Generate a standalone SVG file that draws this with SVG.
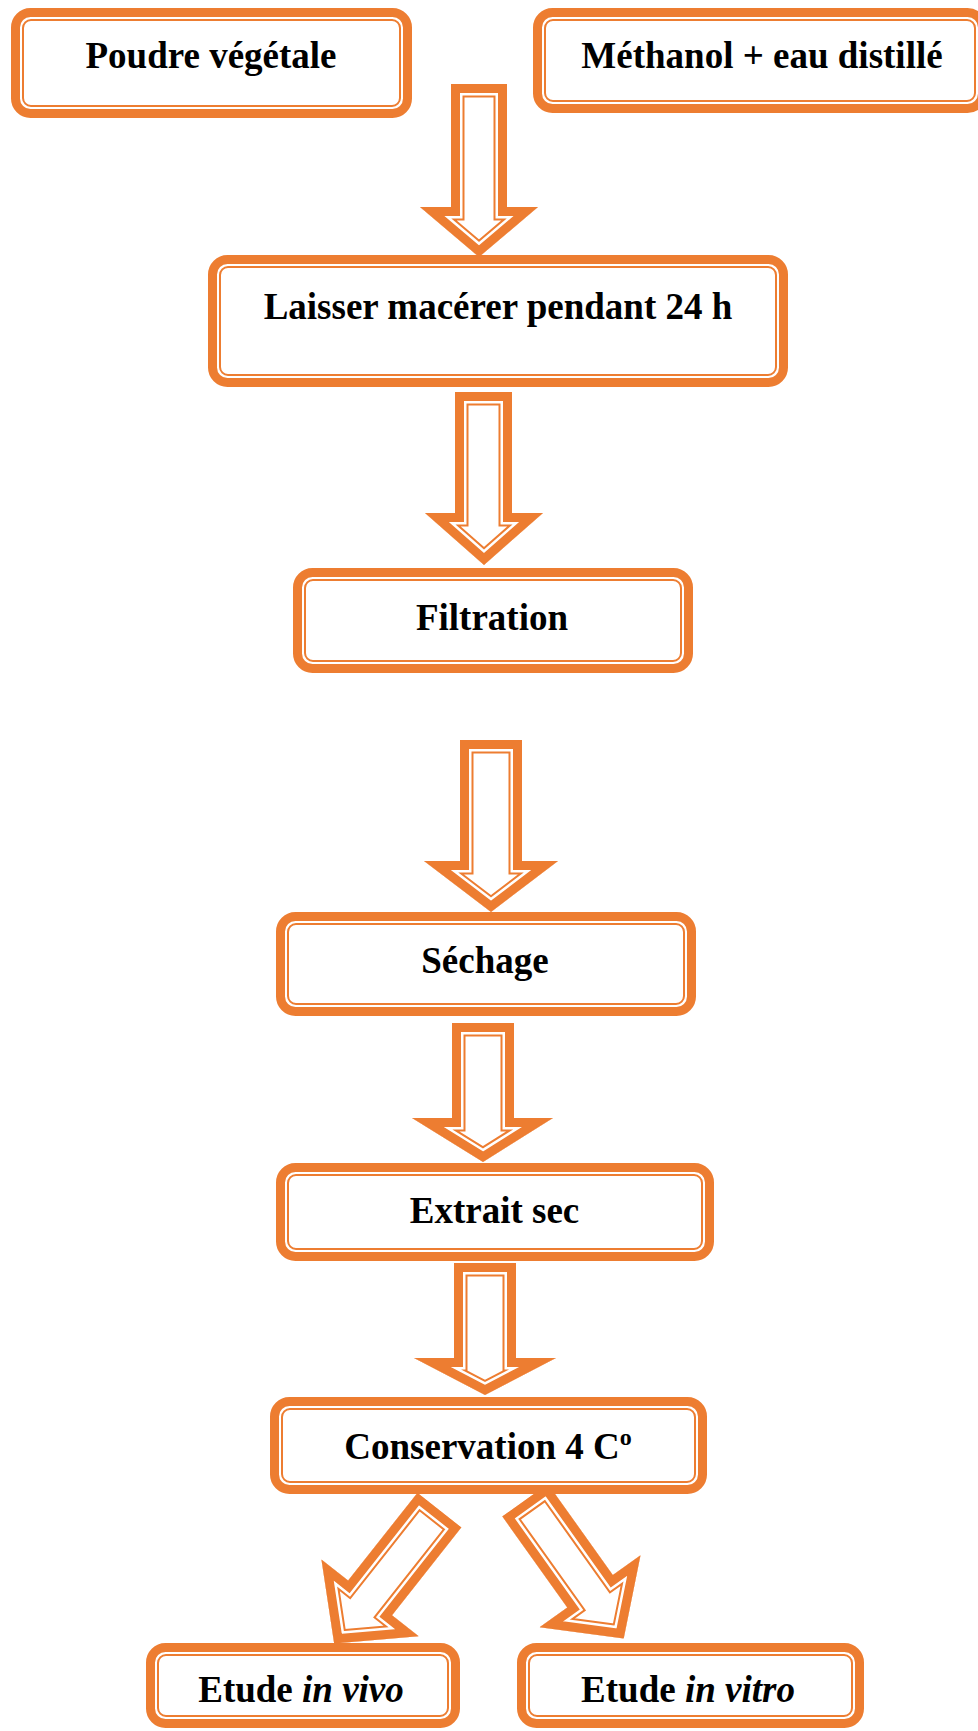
<svg xmlns="http://www.w3.org/2000/svg" width="978" height="1731" viewBox="0 0 978 1731">
<style>
.bo{fill:#fff;stroke:#ED7D31;stroke-width:9}
.bi{fill:none;stroke:#ED7D31;stroke-width:2}
.t{font-family:"Liberation Serif","Times New Roman",serif;font-weight:bold;font-size:37px;fill:#000;text-anchor:middle}
.i{font-style:italic}
.s1{fill:#fff;stroke:#ED7D31;stroke-width:27;stroke-linejoin:miter;stroke-miterlimit:10}
.s2{fill:none;stroke:#fff;stroke-width:23;stroke-linejoin:miter;stroke-miterlimit:10}
.s3{fill:none;stroke:#ED7D31;stroke-width:18;stroke-linejoin:miter;stroke-miterlimit:10}
</style>
<defs>
<path id="p1" d="M451,84 H507 V207 H538 L479,257 L420,207 H451 Z"/>
<path id="p2" d="M455,392 H512 V513 H543 L484,565 L425,513 H455 Z"/>
<path id="p3" d="M460,740 H522 V861 H558 L491,912 L424,861 H460 Z"/>
<path id="p4" d="M452,1023 H514 V1118 H553 L483,1162 L412,1118 H452 Z"/>
<path id="p5" d="M454,1263 H516 V1358 H556 L485,1395 L414,1358 H454 Z"/>
<path id="pd" d="M-28,0 H28 V112 H62 L0,170 L-62,112 H-28 Z"/>
<clipPath id="c1"><use href="#p1"/></clipPath>
<clipPath id="c2"><use href="#p2"/></clipPath>
<clipPath id="c3"><use href="#p3"/></clipPath>
<clipPath id="c4"><use href="#p4"/></clipPath>
<clipPath id="c5"><use href="#p5"/></clipPath>
<clipPath id="cd"><use href="#pd"/></clipPath>
</defs>
<rect x="0" y="0" width="978" height="1731" fill="#fff"/>

<g id="connectors">
<g id="arrow1" clip-path="url(#c1)"><use href="#p1" class="s1"/><use href="#p1" class="s2"/><use href="#p1" class="s3"/></g>
<g id="arrow2" clip-path="url(#c2)"><use href="#p2" class="s1"/><use href="#p2" class="s2"/><use href="#p2" class="s3"/></g>
<g id="arrow3" clip-path="url(#c3)"><use href="#p3" class="s1"/><use href="#p3" class="s2"/><use href="#p3" class="s3"/></g>
<g id="arrow4" clip-path="url(#c4)"><use href="#p4" class="s1"/><use href="#p4" class="s2"/><use href="#p4" class="s3"/></g>
<g id="arrow5" clip-path="url(#c5)"><use href="#p5" class="s1"/><use href="#p5" class="s2"/><use href="#p5" class="s3"/></g>
<g id="arrow6" transform="translate(439.5,1510) rotate(38.3)"><g clip-path="url(#cd)"><use href="#pd" class="s1"/><use href="#pd" class="s2"/><use href="#pd" class="s3"/></g></g>
<g id="arrow7" transform="translate(525,1500) rotate(-35.5)"><g clip-path="url(#cd)"><use href="#pd" class="s1"/><use href="#pd" class="s2"/><use href="#pd" class="s3"/></g></g>
</g>

<g id="n1"><rect class="bo" x="15.5" y="12.5" width="392" height="101" rx="15"/><rect class="bi" x="23" y="20" width="377" height="86" rx="8"/><text class="t" x="211" y="68">Poudre végétale</text></g>
<g id="n2"><rect class="bo" x="537.5" y="12.5" width="445" height="96" rx="15"/><rect class="bi" x="545" y="20" width="430" height="81" rx="8"/><text class="t" x="762" y="68">Méthanol + eau distillé</text></g>
<g id="n3"><rect class="bo" x="212.5" y="259.5" width="571" height="123" rx="15"/><rect class="bi" x="220" y="267" width="556" height="108" rx="8"/><text class="t" x="498" y="319">Laisser macérer pendant 24 h</text></g>
<g id="n4"><rect class="bo" x="297.5" y="572.5" width="391" height="96" rx="15"/><rect class="bi" x="305" y="580" width="376" height="81" rx="8"/><text class="t" x="492" y="630">Filtration</text></g>
<g id="n5"><rect class="bo" x="280.5" y="916.5" width="411" height="95" rx="15"/><rect class="bi" x="288" y="924" width="396" height="80" rx="8"/><text class="t" x="485" y="973">Séchage</text></g>
<g id="n6"><rect class="bo" x="280.5" y="1167.5" width="429" height="89" rx="15"/><rect class="bi" x="288" y="1175" width="414" height="74" rx="8"/><text class="t" x="494.5" y="1223">Extrait sec</text></g>
<g id="n7"><rect class="bo" x="274.5" y="1401.5" width="428" height="88" rx="15"/><rect class="bi" x="282" y="1409" width="413" height="73" rx="8"/><text class="t" x="488" y="1459">Conservation 4 C<tspan font-size="24" dy="-14">o</tspan></text></g>
<g id="n8"><rect class="bo" x="150.5" y="1647.5" width="305" height="76" rx="15"/><rect class="bi" x="158" y="1655" width="290" height="61" rx="8"/><text class="t" x="301" y="1702">Etude <tspan class="i">in vivo</tspan></text></g>
<g id="n9"><rect class="bo" x="521.5" y="1647.5" width="338" height="76" rx="15"/><rect class="bi" x="529" y="1655" width="323" height="61" rx="8"/><text class="t" x="688" y="1702">Etude <tspan class="i">in vitro</tspan></text></g>
</svg>
